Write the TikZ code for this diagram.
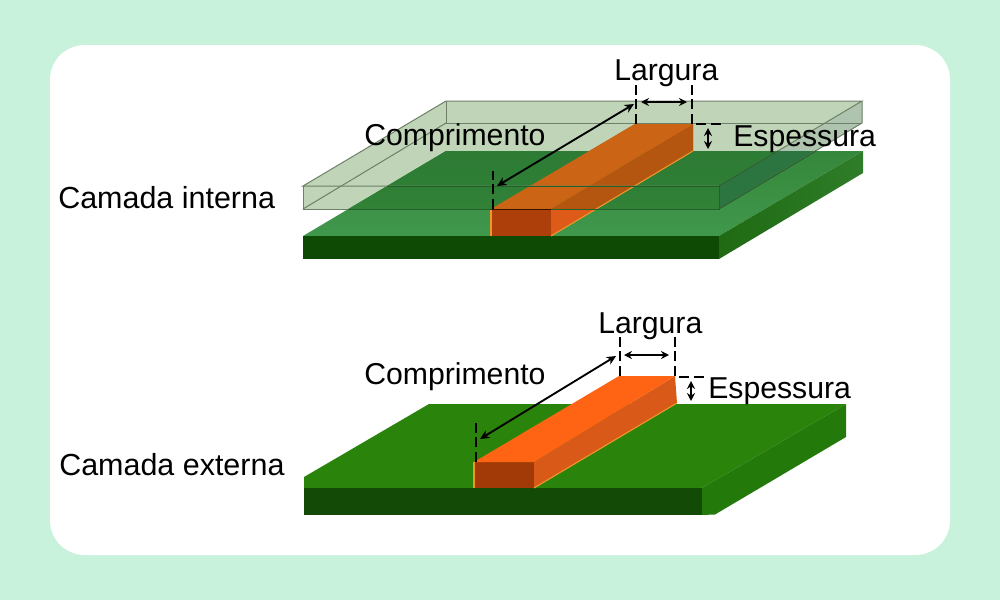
\documentclass[tikz,border=0pt]{standalone}
\usepackage{fontspec}
\setmainfont{Liberation Sans}
\usetikzlibrary{arrows.meta}
\definecolor{mint}{HTML}{C9F2DC}
\definecolor{glassw}{HTML}{C0D4B8}
\definecolor{glasss}{HTML}{AEC4AE}
\definecolor{glassline}{HTML}{6E8168}
\definecolor{glassdark}{HTML}{24602A}
\definecolor{sideA}{HTML}{2F7D2A}
\definecolor{sideB}{HTML}{1F6A12}
\definecolor{frontI}{HTML}{0F4A05}
\definecolor{topIb}{HTML}{35873B}
\definecolor{topIf}{HTML}{40984C}
\definecolor{topGb}{HTML}{2D7B34}
\definecolor{topGf}{HTML}{338439}
\definecolor{sideG}{HTML}{2C7440}
\definecolor{cuTopG}{HTML}{CB6414}
\definecolor{cuSideG}{HTML}{B4560F}
\definecolor{cuSide}{HTML}{DD5A18}
\definecolor{cuFront}{HTML}{AD3F0A}
\definecolor{cuGlow}{HTML}{F0962A}
\definecolor{topO}{HTML}{2A840C}
\definecolor{frontO}{HTML}{134A06}
\definecolor{sideO}{HTML}{237A0A}
\definecolor{cuTopO}{HTML}{FF6414}
\definecolor{cuSideO}{HTML}{D95A18}
\definecolor{cuFrontO}{HTML}{A23A08}
\tikzset{
  lbl/.style={anchor=base west,inner sep=0pt,font=\fontsize{22.65}{26}\selectfont,text=black},
  lblw/.style={lbl,font=\fontsize{22.85}{26}\selectfont},
  dashline/.style={draw=black,line width=1.9pt,dash pattern=on 7.5pt off 3.5pt},
  dimline/.style={draw=black,line width=1.3pt,{Stealth[length=6pt,width=6pt]}-{Stealth[length=6pt,width=6pt]}},
  twoarrow/.style={draw=black,line width=1.4pt,{Stealth[length=7pt,width=6.5pt]}-{Stealth[length=7pt,width=6.5pt]}},
  glassedge/.style={draw=glassline,line width=0.75pt},
  glassunder/.style={draw=glassdark,line width=0.75pt},
  glow/.style={draw=cuGlow,line width=0.8pt}
}
\begin{document}
\begin{tikzpicture}[x=0.75pt,y=-0.75pt]
\useasboundingbox (0,0) rectangle (1000,600);
\fill[mint] (0,0) rectangle (1000,600);
\fill[white,rounded corners=26pt] (50,45) rectangle (950,555);

% ---------- inner layer: glass over white ----------
\fill[glassw] (303,186) -- (446,101) -- (862,101) -- (862,123) -- (719,209) -- (303,209) -- cycle;
\fill[glasss] (719,186) -- (862,101) -- (862,123) -- (719,209) -- cycle;

% board
\shade[top color=topIb,bottom color=topIf] (303,236) -- (446,151) -- (863,151) -- (719,236) -- cycle;
\fill[frontI] (303,236) rectangle (719,259);
\shade[left color=sideB,right color=sideA] (719,236) -- (863,151) -- (863,173) -- (719,259) -- cycle;

% copper
\fill[cuFront] (491,209) rectangle (551,236);
\fill[cuSide] (551,209) -- (693,124) -- (693,151) -- (551,236) -- cycle;
\fill[cuTopG] (491,209) -- (635,124) -- (693,124) -- (551,209) -- cycle;
\draw[glow] (551,236) -- (693,151);
\draw[glow] (491,209) -- (491,236);

% portion seen through the glass
\begin{scope}
\clip (303,186) -- (446,101) -- (862,101) -- (862,123) -- (719,209) -- (303,209) -- cycle;
\shade[top color=topGb,bottom color=topGf] (303,236) -- (446,151) -- (863,151) -- (719,236) -- cycle;
\fill[sideG] (719,186) -- (778,151) -- (816,151) -- (719,209) -- cycle;
\fill[cuSideG] (551,209) -- (693,124) -- (693,151) -- (551,236) -- cycle;
\fill[cuTopG] (491,209) -- (635,124) -- (693,124) -- (551,209) -- cycle;
\draw[glow] (551,236) -- (693,151);
\end{scope}

% glass edges
\draw[glassedge] (303,186) -- (446,101) -- (862,101) -- (719,186) -- cycle;
\draw[glassedge] (303,186) -- (303,209) -- (719,209) -- (719,186);
\draw[glassedge] (862,101) -- (862,123) -- (719,209);
\draw[glassedge] (446,101) -- (446,123) -- (862,123);
\draw[glassedge] (446,123) -- (303,209);
\draw[glassunder] (387,186) -- (719,186) -- (719,209) -- (348,209);
\draw[glassunder] (719,186) -- (778,151);
\draw[glassunder] (719,209) -- (816,151);
\draw[draw=black!70!cuFront,line width=0.75pt] (491,209) -- (551,209);

% inner dimensions
\coordinate (iw1t) at (636,85);  \coordinate (iw1b) at (636,124);
\coordinate (iw2t) at (692,85);  \coordinate (iw2b) at (692,124);
\coordinate (iwa) at (641,102);  \coordinate (iwb) at (687,102);
\coordinate (ilt) at (493,171);  \coordinate (ilb) at (493,209);
\coordinate (ila) at (634,104);  \coordinate (ilc) at (497,186);
\coordinate (ith1) at (696,124); \coordinate (ith2) at (723,124);
\coordinate (itha) at (708,128); \coordinate (ithb) at (708,149);
\draw[dashline] (iw1b) -- (iw1t);
\draw[dashline] (iw2b) -- (iw2t);
\draw[dimline] (iwa) -- (iwb);
\draw[dashline] (ilb) -- (ilt);
\draw[twoarrow] (ila) -- (ilc);
\draw[dashline] (ith1) -- (ith2);
\draw[dimline] (itha) -- (ithb);

% ---------- outer layer ----------
\fill[topO] (304,477) -- (429,404) -- (846,404) -- (702,488) -- (304,488) -- cycle;
\fill[frontO] (304,488) rectangle (702,515);
\fill[sideO] (702,488) -- (846,404) -- (846,437) -- (715,514.5) -- (702,515) -- cycle;
\fill[cuFrontO] (474,462) rectangle (534,488);
\fill[cuSideO] (534,462) -- (675,376) -- (677,403) -- (534,488) -- cycle;
\fill[cuTopO] (474,462) -- (619,376) -- (675,376) -- (534,462) -- cycle;
\draw[glow] (534,488) -- (677,403);
\draw[glow] (474,462) -- (474,488);

% outer dimensions
\coordinate (ow1t) at (620,337);  \coordinate (ow1b) at (620,376);
\coordinate (ow2t) at (675,337);  \coordinate (ow2b) at (675,376);
\coordinate (owa) at (624,355);   \coordinate (owb) at (669,355);
\coordinate (olt) at (476,423);   \coordinate (olb) at (476,462);
\coordinate (ola) at (616,356);   \coordinate (olc) at (480,439);
\coordinate (oth1) at (679,377);  \coordinate (oth2) at (706,377);
\coordinate (otha) at (691,381);  \coordinate (othb) at (691,401);
\draw[dashline] (ow1b) -- (ow1t);
\draw[dashline] (ow2b) -- (ow2t);
\draw[dimline] (owa) -- (owb);
\draw[dashline] (olb) -- (olt);
\draw[twoarrow] (ola) -- (olc);
\draw[dashline] (oth1) -- (oth2);
\draw[dimline] (otha) -- (othb);

% labels
\node[lbl] (t1) at (614,80) {Largura};
\node[lbl] (t2) at (364,145) {Comprimento};
\node[lbl] (t3) at (733,146) {Espessura};
\node[lblw] (t4) at (58,208) {Camada interna};
\node[lbl] (t5) at (598,333) {Largura};
\node[lbl] (t6) at (364,384) {Comprimento};
\node[lbl] (t7) at (708,398) {Espessura};
\node[lblw] (t8) at (59,475) {Camada externa};
\end{tikzpicture}
\end{document}
